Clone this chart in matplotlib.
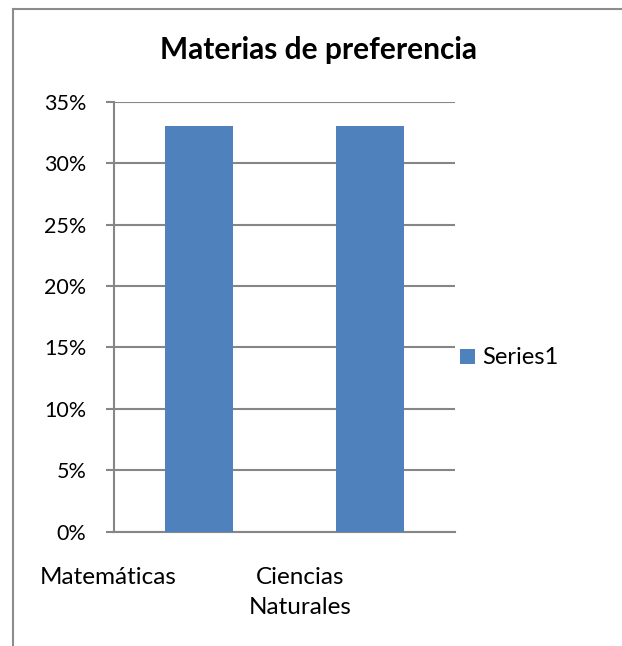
import matplotlib
matplotlib.use("Agg")
import matplotlib.pyplot as plt
from matplotlib.transforms import ScaledTranslation
from matplotlib.ticker import FuncFormatter
from matplotlib.lines import Line2D

plt.rcParams['font.family'] = ['Lato', 'DejaVu Sans']

categories = ["Matemáticas", "Ciencias\nNaturales"]
values = [0.33, 0.33]
series_name = "Series1"
yticks = [0.0, 0.05, 0.10, 0.15, 0.20, 0.25, 0.30, 0.35]

bar_color = "#4F81BD"
grid_color = "#868686"

DPI = 100
fig = plt.figure(figsize=(6.22, 6.46), dpi=DPI)
ax = fig.add_axes([114 / 622, 114.3 / 646, 341 / 622, 430 / 646])

x = list(range(len(categories)))
bars = ax.bar(x, values, width=0.4, color=bar_color, label=series_name, zorder=3)

ax.set_xlim(-0.5, len(categories) - 0.5)
ax.set_ylim(0, 0.35)
ax.set_yticks(yticks)
ax.yaxis.set_major_formatter(FuncFormatter(lambda v, _: f"{round(v * 100)}%"))
ax.yaxis.grid(True, color=grid_color, linewidth=1.5, zorder=0)
ax.tick_params(axis='y', length=6, width=1.5, color=grid_color, labelsize=15.5,
               pad=14, labelcolor="black")
ax.tick_params(axis='x', length=0, labelbottom=False)

for side in ("top", "right"):
    ax.spines[side].set_visible(False)
for side in ("left", "bottom"):
    ax.spines[side].set_color(grid_color)
    ax.spines[side].set_linewidth(1.5)

# Category labels, shifted left as the source layout wraps them
offsets_px = [-91, -70]
for xi, label, off in zip(x, categories, offsets_px):
    tr = ax.get_xaxis_transform() + ScaledTranslation(off / DPI, -35 / DPI, fig.dpi_scale_trans)
    ax.text(xi, 0, label, transform=tr, ha="center", va="top", fontsize=17.5,
            linespacing=1.55, multialignment="center")

fig.text(318.5 / 622, 1 - 58.5 / 646, "Materias de preferencia", ha="center",
         va="baseline", fontsize=21.5, fontweight="bold")

leg = fig.legend(handles=[bars], labels=[series_name], loc="center left",
                 bbox_to_anchor=(439 / 622, 1 - 358 / 646), frameon=False,
                 fontsize=17, handlelength=0.62, handleheight=0.62,
                 handletextpad=0.3)

# Chart-area frame (top and left edges visible)
fig.add_artist(Line2D([13 / 622, 1], [1 - 9 / 646, 1 - 9 / 646], transform=fig.transFigure,
                      color="#8C8C8C", linewidth=1.5))
fig.add_artist(Line2D([13 / 622, 13 / 622], [0, 1 - 9 / 646], transform=fig.transFigure,
                      color="#8C8C8C", linewidth=1.5))

fig.savefig("out.png", dpi=DPI, facecolor="white")
